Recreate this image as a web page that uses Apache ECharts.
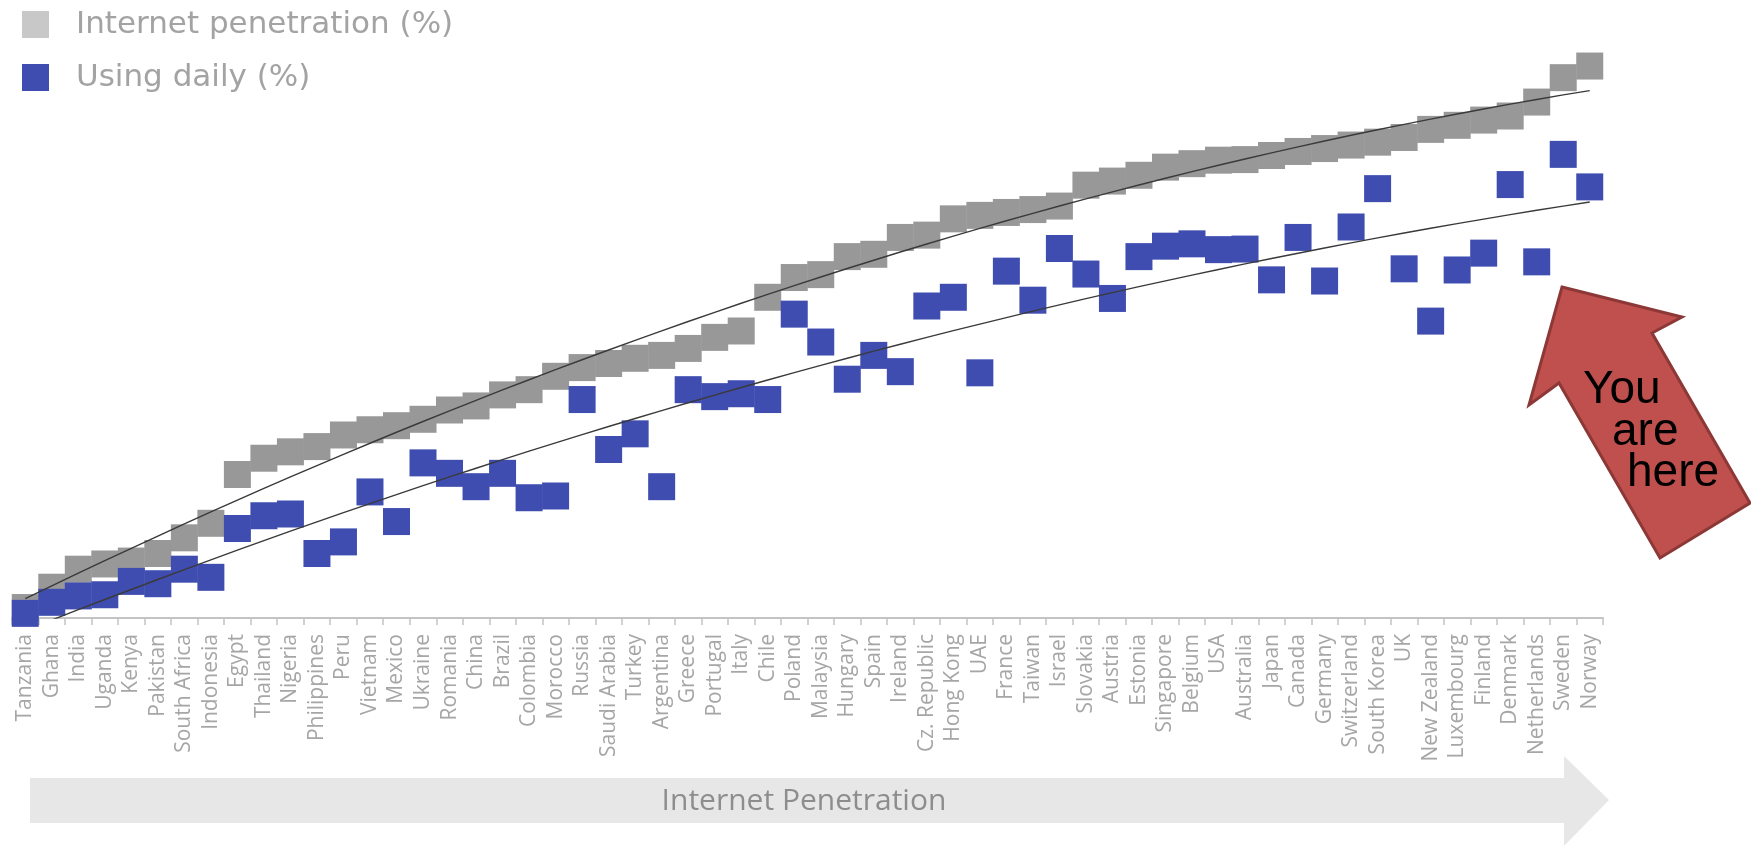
<!DOCTYPE html>
<html>
<head>
  <meta charset="utf-8">
  <title>Internet penetration vs daily use</title>
  <style>
    html, body { margin: 0; padding: 0; background: #fff; }
    #chart { width: 1751px; height: 845px; }
  </style>
</head>
<body>
  <div id="chart"></div>
  <script src="https://cdn.jsdelivr.net/npm/echarts/dist/echarts.min.js"></script>
  <script>
    // countries, sorted by internet penetration
    var countries = ['Tanzania', 'Ghana', 'India', 'Uganda', 'Kenya', 'Pakistan', 'South Africa', 'Indonesia',
      'Egypt', 'Thailand', 'Nigeria', 'Philippines', 'Peru', 'Vietnam', 'Mexico', 'Ukraine', 'Romania', 'China',
      'Brazil', 'Colombia', 'Morocco', 'Russia', 'Saudi Arabia', 'Turkey', 'Argentina', 'Greece', 'Portugal',
      'Italy', 'Chile', 'Poland', 'Malaysia', 'Hungary', 'Spain', 'Ireland', 'Cz. Republic', 'Hong Kong', 'UAE',
      'France', 'Taiwan', 'Israel', 'Slovakia', 'Austria', 'Estonia', 'Singapore', 'Belgium', 'USA', 'Australia',
      'Japan', 'Canada', 'Germany', 'Switzerland', 'South Korea', 'UK', 'New Zealand', 'Luxembourg', 'Finland',
      'Denmark', 'Netherlands', 'Sweden', 'Norway'];

    // Internet penetration (%)
    var penetration = [1.8, 5.3, 8.4, 9.3, 9.8, 11.1, 13.8, 16.3,
      24.7, 27.5, 28.6, 29.5, 31.5, 32.4, 33.1, 34.2, 35.8, 36.5,
      38.4, 39.3, 41.6, 43.1, 43.8, 44.7, 45.2, 46.4, 48.3,
      49.4, 55.2, 58.6, 59.1, 62.2, 62.6, 65.5, 65.9, 68.7, 69.3,
      69.8, 70.3, 70.9, 74.5, 75.2, 76.2, 77.6, 78.2, 78.8, 78.9,
      79.6, 80.3, 80.8, 81.4, 81.9, 82.7, 84.1, 84.8, 85.7,
      86.4, 88.8, 93.0, 95.0];

    // Using daily (%)
    var daily = [0.8, 2.7, 3.8, 4.0, 6.3, 5.9, 8.4, 7.0,
      15.4, 17.6, 17.9, 11.1, 13.1, 21.7, 16.6, 26.7, 24.9, 22.6,
      24.9, 20.7, 21.0, 37.6, 29.0, 31.7, 22.6, 39.3, 38.1,
      38.6, 37.6, 52.3, 47.5, 41.1, 45.2, 42.4, 53.7, 55.2, 42.2,
      59.7, 54.7, 63.6, 59.2, 55.0, 62.2, 64.0, 64.4, 63.4, 63.5,
      58.2, 65.5, 58.0, 67.3, 73.9, 60.1, 51.1, 59.9, 62.8,
      74.6, 61.3, 79.8, 74.2];

    // polynomial trendline (least squares), like a spreadsheet trendline
    function polyTrend(ys, deg) {
      var n = deg + 1;
      var A = [], b = [];
      for (var r = 0; r < n; r++) {
        A.push([]);
        b.push(0);
        for (var c = 0; c < n; c++) A[r].push(0);
      }
      ys.forEach(function (y, i) {
        var x = i + 1;
        for (var r = 0; r < n; r++) {
          b[r] += y * Math.pow(x, r);
          for (var c = 0; c < n; c++) A[r][c] += Math.pow(x, r + c);
        }
      });
      // gaussian elimination
      for (var k = 0; k < n; k++) {
        for (var r = k + 1; r < n; r++) {
          var f = A[r][k] / A[k][k];
          for (var c = k; c < n; c++) A[r][c] -= f * A[k][c];
          b[r] -= f * b[k];
        }
      }
      var coef = new Array(n);
      for (var k = n - 1; k >= 0; k--) {
        var s = b[k];
        for (var c = k + 1; c < n; c++) s -= A[k][c] * coef[c];
        coef[k] = s / A[k][k];
      }
      return ys.map(function (y, i) {
        var x = i + 1, v = 0;
        for (var k = 0; k < n; k++) v += coef[k] * Math.pow(x, k);
        return +v.toFixed(2);
      });
    }

    var chart = echarts.init(document.getElementById('chart'));

    var option = {
      animation: false,
      backgroundColor: '#ffffff',
      legend: {
        orient: 'vertical',
        left: 22,
        top: 9,
        padding: 0,
        icon: 'rect',
        itemWidth: 27,
        itemHeight: 27,
        itemGap: 22,
        textStyle: {
          fontFamily: 'DejaVu Sans',
          fontSize: 31,
          color: '#a3a3a3',
          padding: [0, 0, 0, 22]
        },
        data: [
          { name: 'Internet penetration (%)', itemStyle: { color: '#c8c8c8' } },
          { name: 'Using daily (%)', itemStyle: { color: '#3f4db0' } }
        ]
      },
      grid: {
        left: 12,
        right: 148,
        top: 37,
        bottom: 227
      },
      xAxis: {
        type: 'category',
        data: countries,
        boundaryGap: true,
        axisLine: { lineStyle: { color: '#c4c4c4', width: 2 } },
        axisTick: { show: true, length: 7, lineStyle: { color: '#c4c4c4', width: 1.5 } },
        axisLabel: {
          interval: 0,
          rotate: 90,
          margin: 16,
          fontFamily: 'Open Sans',
          fontSize: 21,
          color: '#a6a6a6'
        }
      },
      yAxis: {
        type: 'value',
        min: 0,
        max: 100,
        show: false
      },
      series: [
        {
          name: 'Internet penetration (%)',
          type: 'scatter',
          symbol: 'rect',
          symbolSize: 27,
          itemStyle: { color: '#989898', opacity: 1 },
          data: penetration,
          z: 2
        },
        {
          name: 'Using daily (%)',
          type: 'scatter',
          symbol: 'rect',
          symbolSize: 27,
          itemStyle: { color: '#3f4db0', opacity: 1 },
          data: daily,
          z: 3
        },
        {
          name: 'trend penetration',
          type: 'line',
          data: polyTrend(penetration, 2),
          showSymbol: false,
          smooth: false,
          clip: true,
          lineStyle: { color: '#3a3a3a', width: 1.4 },
          z: 4
        },
        {
          name: 'trend daily',
          type: 'line',
          data: polyTrend(daily, 2),
          showSymbol: false,
          smooth: false,
          clip: true,
          lineStyle: { color: '#3a3a3a', width: 1.4 },
          z: 4
        }
      ],
      graphic: [
        {
          type: 'polygon',
          z: 0,
          shape: {
            points: [[30, 778], [1564, 778], [1564, 756], [1609, 800], [1564, 846], [1564, 823], [30, 823]]
          },
          style: { fill: '#e7e7e7' }
        },
        {
          type: 'text',
          z: 1,
          x: 804,
          y: 801,
          style: {
            text: 'Internet Penetration',
            fontFamily: 'Open Sans',
            fontSize: 30,
            fill: '#8d8d8d',
            align: 'center',
            verticalAlign: 'middle'
          }
        },
        {
          type: 'polygon',
          z: 10,
          shape: {
            points: [[1562, 287], [1682, 317], [1652, 333], [1750, 503], [1660, 558], [1559, 383], [1529, 405]]
          },
          style: { fill: '#c0504d', stroke: '#8c3836', lineWidth: 3 }
        },
        {
          type: 'text',
          z: 11,
          x: 1583,
          y: 390,
          style: { text: 'You', fontFamily: 'Liberation Sans', fontSize: 46, fill: '#000', align: 'left', verticalAlign: 'middle' }
        },
        {
          type: 'text',
          z: 11,
          x: 1612,
          y: 432,
          style: { text: 'are', fontFamily: 'Liberation Sans', fontSize: 46, fill: '#000', align: 'left', verticalAlign: 'middle' }
        },
        {
          type: 'text',
          z: 11,
          x: 1627,
          y: 473,
          style: { text: 'here', fontFamily: 'Liberation Sans', fontSize: 46, fill: '#000', align: 'left', verticalAlign: 'middle' }
        }
      ]
    };

    chart.setOption(option);
  </script>
</body>
</html>
